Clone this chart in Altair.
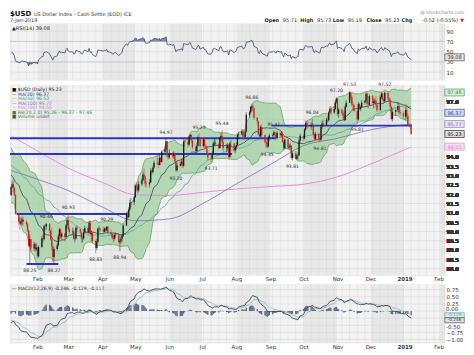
import altair as alt
import pandas as pd
import numpy as np

# ---------------- data (read / estimated from the picture) ----------------
# warm-up closes, 25-Oct-2017 .. 5-Jan-2018 (needed for the moving averages, RSI, MACD)
warm_close = [93.57, 94.63, 94.91, 94.55, 94.55,
              94.64, 94.68, 94.88, 94.77, 94.93, 94.89, 94.40, 94.39, 94.46, 93.81, 93.91,
              93.89, 93.66, 94.11, 93.96, 93.22, 93.16, 92.77, 92.97, 93.26, 93.05, 93.05,
              92.88, 93.19, 93.54, 93.37, 93.79, 93.89, 93.89, 94.09, 93.50, 93.50, 93.92,
              93.66, 93.41, 93.17, 93.35, 93.30, 93.06, 92.88, 92.54, 92.12,
              91.87, 92.18, 91.87, 91.96]

jan_c = [92.37, 92.53, 92.34, 91.96, 90.94, 90.50, 90.43, 90.54, 90.64, 90.51, 90.39, 90.05, 89.23, 89.59, 89.08, 89.32, 89.04, 89.13]
jan_h = [92.45, 92.70, 92.80, 92.40, 92.00, 90.95, 90.70, 90.75, 90.80, 90.75, 90.60, 90.45, 90.10, 89.85, 89.60, 89.45, 89.40, 89.35]
jan_l = [91.90, 92.30, 92.10, 91.90, 90.90, 90.35, 90.10, 90.35, 90.30, 90.35, 90.25, 89.95, 89.15, 88.25, 88.95, 88.95, 88.90, 88.95]
feb_c = [88.66, 89.16, 89.63, 89.58, 90.28, 90.26, 90.39, 90.02, 89.56, 89.19, 88.63, 89.06, 89.26, 89.74, 90.11, 89.71, 89.87, 89.70, 90.32, 90.60]
feb_h = [89.20, 89.25, 89.75, 89.85, 90.35, 90.40, 90.46, 90.45, 90.10, 90.20, 89.25, 89.15, 89.35, 89.85, 90.20, 90.15, 89.95, 89.90, 90.40, 90.70]
feb_l = [88.55, 88.60, 89.10, 89.40, 89.50, 90.05, 90.10, 89.90, 89.50, 88.95, 88.35, 88.27, 88.95, 89.20, 89.55, 89.60, 89.55, 89.45, 89.65, 90.25]
mar_c = [90.13, 89.96, 89.99, 89.61, 89.63, 90.19, 90.11, 89.94, 89.62, 89.62, 89.97, 90.18, 89.94, 90.46, 89.86, 89.92, 89.49, 89.11, 89.45, 90.14, 90.15, 90.10]
mar_h = [90.93, 90.25, 90.20, 90.10, 89.75, 90.25, 90.35, 90.15, 90.00, 89.75, 90.10, 90.30, 90.25, 90.55, 90.60, 90.05, 89.95, 89.55, 89.60, 90.20, 90.30, 90.20]
mar_l = [90.05, 89.85, 89.80, 89.55, 89.40, 89.55, 89.95, 89.85, 89.40, 89.40, 89.55, 89.90, 89.75, 89.90, 89.75, 89.45, 89.35, 88.83, 89.00, 89.40, 89.95, 90.00]
apr_c = [89.98, 90.15, 90.06, 90.25, 89.95, 89.86, 89.64, 89.61, 89.80, 89.80, 89.42, 89.50, 89.62, 89.77, 90.31, 90.95, 90.77, 91.18, 91.53, 91.56, 91.84]
apr_h = [90.25, 90.22, 90.20, 90.29, 90.28, 90.10, 89.95, 89.80, 89.90, 89.95, 89.85, 89.60, 89.75, 89.85, 90.40, 91.05, 91.10, 91.30, 91.70, 91.80, 91.90]
apr_l = [89.90, 89.95, 89.95, 90.00, 89.90, 89.75, 89.55, 89.40, 89.50, 89.65, 89.35, 88.94, 89.35, 89.45, 89.70, 90.30, 90.60, 90.70, 91.10, 91.30, 91.40]
may_c = [92.46, 92.43, 92.21, 92.53, 92.75, 93.06, 92.96, 92.57, 92.53, 92.64, 93.25, 93.19, 93.42, 93.68, 93.64, 93.57, 93.95, 93.73, 94.26, 94.43, 94.84, 94.06, 93.98]
may_h = [92.55, 92.65, 92.55, 92.70, 92.85, 93.20, 93.40, 93.00, 92.70, 92.80, 93.40, 93.35, 93.50, 93.80, 94.05, 93.75, 94.20, 94.00, 94.35, 94.60, 94.97, 94.85, 94.20]
may_l = [91.80, 92.15, 92.05, 92.10, 92.45, 92.70, 92.85, 92.40, 92.35, 92.35, 92.60, 93.00, 93.10, 93.35, 93.55, 93.40, 93.55, 93.55, 93.70, 94.20, 94.35, 93.95, 93.85]
jun_c = [94.17, 94.04, 94.20, 93.77, 93.29, 93.54, 93.62, 93.75, 93.53, 94.83, 94.80, 94.67, 95.10, 95.19, 94.88, 94.52, 94.32, 94.60, 95.07, 95.03, 94.58]
jun_h = [94.40, 94.25, 94.30, 94.20, 93.80, 93.70, 93.75, 93.90, 93.95, 94.95, 95.05, 95.00, 95.15, 95.20, 95.10, 94.95, 94.60, 94.75, 95.15, 95.25, 95.05]
jun_l = [93.90, 93.95, 93.90, 93.65, 93.20, 93.20, 93.45, 93.50, 93.40, 93.45, 94.55, 94.50, 94.60, 94.95, 94.75, 94.40, 94.20, 94.25, 94.55, 94.95, 94.50]
jul_c = [94.93, 94.58, 94.56, 94.23, 93.96, 93.91, 94.17, 94.72, 94.77, 94.68, 94.48, 95.02, 95.14, 94.80, 94.47, 94.50, 94.61, 94.00, 94.72, 94.72, 94.35, 94.52]
jul_h = [95.00, 95.05, 94.70, 94.60, 94.35, 94.10, 94.30, 94.85, 95.00, 94.90, 94.75, 95.10, 95.30, 95.44, 95.00, 94.70, 94.75, 94.70, 94.80, 94.90, 94.75, 94.60]
jul_l = [94.50, 94.45, 94.45, 94.15, 93.80, 93.71, 93.85, 94.10, 94.60, 94.55, 94.40, 94.45, 94.90, 94.70, 94.30, 94.25, 94.35, 93.90, 93.95, 94.55, 94.25, 94.20]
aug_c = [94.64, 95.17, 95.21, 95.37, 95.10, 95.08, 95.36, 96.26, 96.40, 96.68, 96.72, 96.62, 96.10, 95.91, 95.22, 95.10, 95.60, 95.18, 94.81, 94.76, 94.56, 95.02, 95.15]
aug_h = [94.80, 95.25, 95.35, 95.50, 95.45, 95.20, 95.45, 96.40, 96.50, 96.75, 96.86, 96.80, 96.65, 96.15, 95.95, 95.35, 95.70, 95.70, 95.20, 94.95, 94.85, 95.10, 95.25]
aug_l = [94.40, 94.60, 95.00, 95.15, 95.00, 94.90, 95.00, 95.30, 96.10, 96.35, 96.50, 96.45, 96.00, 95.75, 95.15, 94.95, 95.05, 95.05, 94.70, 94.50, 94.45, 94.50, 94.85]
sep_c = [95.17, 95.33, 95.19, 95.01, 95.30, 95.16, 95.24, 94.81, 94.46, 94.93, 94.50, 94.54, 94.60, 93.94, 94.20, 93.90, 94.06, 94.09, 94.87, 95.13]
sep_h = [95.25, 95.41, 95.38, 95.25, 95.40, 95.35, 95.38, 95.30, 94.90, 95.00, 95.00, 94.70, 94.75, 94.65, 94.30, 94.30, 94.15, 94.25, 94.95, 95.25]
sep_l = [95.00, 95.10, 95.05, 94.90, 94.95, 95.05, 95.05, 94.75, 94.35, 94.40, 94.40, 94.40, 94.40, 93.85, 93.81, 93.85, 93.85, 93.85, 94.05, 94.75]
oct_c = [94.98, 95.47, 95.81, 95.72, 95.63, 95.68, 95.73, 95.20, 94.97, 95.24, 94.95, 94.92, 95.62, 95.79, 95.70, 96.00, 95.97, 96.38, 96.58, 96.38, 96.57, 96.94, 97.13]
oct_h = [95.25, 95.55, 95.95, 95.95, 95.90, 95.85, 96.04, 95.80, 95.30, 95.35, 95.30, 95.10, 95.70, 95.95, 96.00, 96.10, 96.20, 96.45, 96.70, 96.75, 96.70, 97.05, 97.20]
oct_l = [94.85, 94.95, 95.40, 95.55, 95.50, 95.45, 95.60, 95.10, 94.85, 94.90, 94.80, 94.81, 94.85, 95.50, 95.60, 95.65, 95.85, 95.90, 96.30, 96.25, 96.30, 96.50, 96.85]
nov_c = [96.31, 96.54, 96.36, 96.21, 95.97, 96.70, 96.91, 97.45, 97.23, 96.81, 96.78, 96.46, 96.01, 96.84, 96.57, 96.70, 96.92, 97.00, 97.39, 96.86, 96.81, 97.27]
nov_h = [97.15, 96.65, 96.60, 96.50, 96.45, 96.80, 97.05, 97.53, 97.50, 97.30, 97.00, 96.85, 96.50, 96.95, 96.90, 96.75, 97.05, 97.10, 97.45, 97.45, 96.95, 97.35]
nov_l = [96.20, 96.10, 96.25, 96.05, 95.90, 95.95, 96.65, 96.90, 97.05, 96.70, 96.50, 96.40, 95.81, 95.95, 96.50, 96.45, 96.65, 96.80, 96.95, 96.75, 96.60, 96.75]
dec_c = [96.89, 96.97, 97.02, 96.79, 96.51, 97.21, 97.40, 97.10, 96.99, 97.45, 97.12, 97.05, 96.70, 96.03, 96.42, 96.52, 96.72, 96.40, 96.35, 96.17]
dec_h = [97.35, 97.10, 97.15, 97.25, 96.85, 97.30, 97.48, 97.45, 97.20, 97.52, 97.50, 97.20, 97.15, 96.75, 96.60, 96.60, 96.95, 96.85, 96.55, 96.45]
dec_l = [96.80, 96.60, 96.85, 96.65, 96.40, 96.45, 97.10, 97.00, 96.85, 96.95, 97.00, 96.85, 96.60, 95.95, 95.90, 96.20, 96.40, 96.30, 96.20, 96.05]
jan19_c = [96.52, 96.19, 95.75, 95.23]
jan19_h = [96.70, 96.80, 96.30, 95.73]
jan19_l = [95.95, 96.05, 95.70, 95.19]

# long moving averages (too long to derive from the shown window)
ma_dates = ["2018-01-08", "2018-02-01", "2018-03-01", "2018-04-02", "2018-05-01", "2018-06-01", "2018-07-02",
            "2018-08-01", "2018-09-04", "2018-10-01", "2018-11-01", "2018-12-03", "2019-01-07"]
ma100_vals = [93.27, 92.80, 92.19, 91.28, 90.57, 90.67, 91.51, 92.55, 93.70, 94.60, 95.00, 95.48, 95.77]
ma200_vals = [95.13, 94.32, 93.40, 92.61, 91.97, 91.93, 92.10, 92.28, 92.42, 92.53, 92.93, 93.66, 94.53]

# hand-drawn support / resistance lines
bl_start = ["2018-01-07", "2018-01-07", "2018-09-02", "2018-01-13", "2018-01-22"]
bl_end = ["2018-09-06", "2018-07-28", "2019-01-07", "2018-04-24", "2018-02-20"]
bl_level = [95.00, 94.15, 95.68, 90.93, 88.25]

# annotated swing highs / lows
peak_dates = ["2018-02-09", "2018-03-01", "2018-04-05", "2018-05-29", "2018-06-28", "2018-07-19",
              "2018-08-15", "2018-09-04", "2018-10-09", "2018-10-31", "2018-11-12", "2018-12-14"]
trough_dates = ["2018-01-25", "2018-02-16", "2018-03-26", "2018-04-17", "2018-06-07", "2018-07-09",
                "2018-08-29", "2018-09-21", "2018-10-16", "2018-11-19"]

# legend / header texts
price_legend = ["■ $USD (Daily) 95.23", "— MA(20) 96.37", "— MA(50) 96.52", "— MA(100) 95.77",
                "— MA(200) 94.55", "■ BB(20,2.0) 95.26 - 96.37 - 97.46", "■ Volume undef"]
price_legend_col = ["#111111", "#1f3a93", "#3f9a9a", "#7d6fb0", "#d880cf", "#3c8f3c", "#555555"]
price_box_vals = [97.46, 96.37, 95.77, 95.23, 94.55]
price_box_txt = ["97.46", "96.37", "95.77", "95.23", "94.55"]
price_box_col = ["#3c8f3c", "#1f3a93", "#7d6fb0", "#111111", "#d880cf"]
price_box_fill = ["#d6ecd6", "#d5dcf2", "#e6e1f2", "#dcdcdc", "#f6dcf3"]
macd_box_vals = [-0.129, -0.246]
macd_box_txt = ["-0.129", "-0.246"]
macd_box_col = ["#3f9a9a", "#333333"]
header_pieces = ["Open", "95.71", "High", "95.73", "Low", "95.19", "Close", "95.23", "Chg", "-0.52 (-0.55%)"]

# ---------------- assemble ----------------
HOL = {"2017-12-25", "2018-01-01", "2018-12-25", "2019-01-01"}


def tdays(a, b):
    return [d for d in pd.bdate_range(a, b) if d.strftime("%Y-%m-%d") not in HOL]


months = [
    ("2018-01-08", "2018-01-31", jan_c, jan_h, jan_l), ("2018-02-01", "2018-02-28", feb_c, feb_h, feb_l),
    ("2018-03-01", "2018-03-31", mar_c, mar_h, mar_l), ("2018-04-01", "2018-04-30", apr_c, apr_h, apr_l),
    ("2018-05-01", "2018-05-31", may_c, may_h, may_l), ("2018-06-01", "2018-06-30", jun_c, jun_h, jun_l),
    ("2018-07-01", "2018-07-31", jul_c, jul_h, jul_l), ("2018-08-01", "2018-08-31", aug_c, aug_h, aug_l),
    ("2018-09-01", "2018-09-30", sep_c, sep_h, sep_l), ("2018-10-01", "2018-10-31", oct_c, oct_h, oct_l),
    ("2018-11-01", "2018-11-30", nov_c, nov_h, nov_l), ("2018-12-01", "2018-12-31", dec_c, dec_h, dec_l),
    ("2019-01-01", "2019-01-07", jan19_c, jan19_h, jan19_l),
]
rows = []
for a, b, c, h, l in months:
    for d, cc, hh, ll in zip(tdays(a, b), c, h, l):
        rows.append((d, cc, hh, ll))
main = pd.DataFrame(rows, columns=["date", "close", "high", "low"])
wd = tdays("2017-10-25", "2018-01-05")
warm = pd.DataFrame({"date": wd[:len(warm_close)], "close": warm_close[:len(wd)]})
allc = pd.concat([warm, main[["date", "close"]]], ignore_index=True)
s = allc["close"]
allc["open"] = s.shift(1)
allc["ma20"] = s.rolling(20).mean()
sd = s.rolling(20).std(ddof=0)
allc["bbu"] = allc["ma20"] + 2 * sd
allc["bbl"] = allc["ma20"] - 2 * sd
allc["ma50"] = s.rolling(50, min_periods=40).mean()
dd = s.diff()
gain = dd.clip(lower=0).ewm(alpha=1 / 14, adjust=False).mean()
loss = (-dd.clip(upper=0)).ewm(alpha=1 / 14, adjust=False).mean()
allc["rsi"] = 100 - 100 / (1 + gain / loss)
e12 = s.ewm(span=12, adjust=False).mean()
e26 = s.ewm(span=26, adjust=False).mean()
allc["macd"] = e12 - e26
allc["sig"] = allc["macd"].ewm(span=9, adjust=False).mean()
allc["hist"] = allc["macd"] - allc["sig"]
df = allc[allc["date"] >= pd.Timestamp("2018-01-08")].merge(main[["date", "high", "low"]], on="date")
df["rsi_hi"] = np.maximum(df["rsi"], 70)
df["rsi_lo"] = np.minimum(df["rsi"], 30)
df["date"] = df["date"].dt.strftime("%Y-%m-%d")
df = df.round(4)

ma_df = pd.DataFrame({"date": ma_dates, "ma100": ma100_vals, "ma200": ma200_vals})
bl_df = pd.DataFrame({"a": bl_start, "b": bl_end, "v": bl_level})
peaks = df[df["date"].isin(peak_dates)].copy()
peaks["t"] = peaks["high"].map(lambda v: f"{v:.2f}")
troughs = df[df["date"].isin(trough_dates)].copy()
troughs["t"] = troughs["low"].map(lambda v: f"{v:.2f}")

X0, X1 = "2018-01-07", "2019-02-06"
ms = pd.date_range("2017-12-01", "2019-02-01", freq="MS")
band_df = pd.DataFrame({
    "start": [max(m, pd.Timestamp(X0)).strftime("%Y-%m-%d") for m in ms],
    "end": [min(m + pd.offsets.MonthBegin(1), pd.Timestamp(X1)).strftime("%Y-%m-%d") for m in ms],
    "shade": ["a" if m.month % 2 else "b" for m in ms],
})
band_df = band_df[band_df["start"] < band_df["end"]]
week_df = pd.DataFrame({"d": pd.date_range("2018-01-08", "2019-02-04", freq="W-MON").strftime("%Y-%m-%d")})

# ---------------- chart ----------------
W = 436
H_RSI, H_PRICE, H_MACD = 56, 190, 58
FONT = "DejaVu Sans"
xs = alt.Scale(domain=[X0, X1])
AXM = alt.Axis(title=None, tickCount={"interval": "month", "step": 1}, grid=False, ticks=False, domain=False,
               labelFontSize=5.5, labelColor="#333", labelPadding=2, labelOverlap=False, labelFlush=False,
               labelExpr="month(datum.value) == 0 ? timeFormat(datum.value, '%Y') : timeFormat(datum.value, '%b')",
               labelFontWeight={"condition": {"test": "month(datum.value) == 0", "value": "bold"}, "value": "normal"})


def bg(xaxis):
    bands = alt.Chart(band_df).mark_rect().encode(
        x=alt.X("start:T", scale=xs, axis=xaxis), x2="end:T",
        fill=alt.condition("datum.shade == 'a'", alt.value("#f3f3f3"), alt.value("#e8e8e8")))
    weeks = alt.Chart(week_df).mark_rule(color="#d8d8d8", strokeWidth=0.5).encode(
        x=alt.X("d:T", scale=xs, axis=xaxis))
    return [bands, weeks]


def hgrid(vals, scale, axis, col="#d2d2d2"):
    return alt.Chart(pd.DataFrame({"v": vals})).mark_rule(color=col, strokeWidth=0.5).encode(
        y=alt.Y("v:Q", scale=scale, axis=axis))


def boxes(vals, txts, cols, fills, scale, axis, offs=None, half=0.36, fs=5):
    out = []
    offs = offs or [0] * len(vals)
    path = f"M-1,-{half}L1,-{half}L1,{half}L-1,{half}Z"
    for v, t, c, f, o in zip(vals, txts, cols, fills, offs):
        bdf = pd.DataFrame({"v": [v], "t": [t]})
        out.append(alt.Chart(bdf).mark_point(shape=path, size=380, filled=True, fill=f, stroke=c,
                                             strokeWidth=0.6, opacity=1, yOffset=o).encode(
            x=alt.value(W + 10.5), y=alt.Y("v:Q", scale=scale, axis=axis)))
        out.append(alt.Chart(bdf).mark_text(fontSize=fs, font=FONT, align="center", baseline="middle",
                                            color=c, yOffset=o).encode(
            x=alt.value(W + 10.5), y=alt.Y("v:Q", scale=scale, axis=axis), text="t:N"))
    return out


# ---- RSI panel
ys_r = alt.Scale(domain=[-4, 104.5], nice=False, zero=False)
AXR = alt.Axis(title=None, orient="right", values=[10, 30, 50, 70, 90], grid=False, ticks=False, domain=False,
               labelFontSize=5.5, labelColor="#333", labelPadding=2)
rsi_layers = bg(None) + [
    hgrid([10, 50, 90], ys_r, AXR),
    hgrid([30, 70], ys_r, AXR, col="#a0a0a0"),
    alt.Chart(df).mark_area(color="#6f7f9f", opacity=0.9).encode(
        x=alt.X("date:T", scale=xs, axis=None), y=alt.Y("rsi_hi:Q", scale=ys_r, axis=AXR), y2=alt.datum(70)),
    alt.Chart(df).mark_area(color="#6f7f9f", opacity=0.9).encode(
        x=alt.X("date:T", scale=xs, axis=None), y=alt.Y("rsi_lo:Q", scale=ys_r, axis=AXR), y2=alt.datum(30)),
    alt.Chart(df).mark_line(color="#4d5670", strokeWidth=0.9).encode(
        x=alt.X("date:T", scale=xs, axis=None), y=alt.Y("rsi:Q", scale=ys_r, axis=AXR)),
    alt.Chart(pd.DataFrame({"t": ["▲RSI(14) 39.08"]})).mark_text(
        fontSize=5, font=FONT, align="left", baseline="middle", color="#222").encode(
        x=alt.value(2), y=alt.value(4), text="t:N"),
] + boxes([39.08], ["39.08"], ["#333333"], ["#e2e2e2"], ys_r, AXR)

# header (drawn above the RSI panel)
hdr = [
    alt.Chart(pd.DataFrame({"t": ["$USD"]})).mark_text(fontSize=7, font=FONT, fontWeight="bold", align="left",
                                                        baseline="middle", color="#111").encode(
        x=alt.value(0), y=alt.value(-10), text="t:N"),
    alt.Chart(pd.DataFrame({"t": ["US Dollar Index - Cash Settle (EOD) ICE"]})).mark_text(
        fontSize=5, font=FONT, align="left", baseline="middle", color="#333").encode(
        x=alt.value(24), y=alt.value(-10), text="t:N"),
    alt.Chart(pd.DataFrame({"t": ["7-Jan-2019"]})).mark_text(
        fontSize=5, font=FONT, align="left", baseline="middle", color="#333").encode(
        x=alt.value(0), y=alt.value(-3.5), text="t:N"),
    alt.Chart(pd.DataFrame({"t": ["@ StockCharts.com"]})).mark_text(
        fontSize=4.5, font=FONT, align="right", baseline="middle", color="#888").encode(
        x=alt.value(W + 20), y=alt.value(-10.5), text="t:N"),
    alt.Chart(pd.DataFrame({"t": ["▼"]})).mark_text(
        fontSize=5, font=FONT, align="right", baseline="middle", color="#d42020").encode(
        x=alt.value(W + 20), y=alt.value(-3.5), text="t:N"),
]
xr = W + 14
for i in range(len(header_pieces) - 1, -1, -1):
    bold = i % 2 == 0
    piece = header_pieces[i]
    hdr.append(alt.Chart(pd.DataFrame({"t": [piece]})).mark_text(
        fontSize=5, font=FONT, align="right", baseline="middle", color="#222",
        fontWeight="bold" if bold else "normal").encode(x=alt.value(xr), y=alt.value(-3.5), text="t:N"))
    xr -= len(piece) * (3.45 if bold else 3.1) + 2.5

rsi_chart = alt.layer(*(rsi_layers + hdr)).properties(width=W, height=H_RSI)

# ---- price panel
ys_p = alt.Scale(domain=[87.68, 97.84], nice=False, zero=False)
pvals = [88.0 + 0.5 * i for i in range(20)]
AXP = alt.Axis(title=None, orient="right", values=pvals, grid=False, ticks=False, domain=False,
               labelFontSize=5.5, labelColor="#333", labelPadding=2,
               labelExpr="(datum.value > 94.2 && datum.value < 96.8) || datum.value > 97.2 ? '' : format(datum.value, '.1f')")
X_P = alt.X("date:T", scale=xs, axis=AXM)
cond = alt.condition("datum.close < datum.open", alt.value("#d42020"), alt.value("#1a1a1a"))
leg_df = pd.DataFrame({"t": price_legend, "c": price_legend_col, "i": list(range(len(price_legend)))})
price_layers = bg(AXM) + [
    hgrid(pvals, ys_p, AXP),
    alt.Chart(df).mark_area(color="#9fd09f", opacity=0.75).encode(
        x=X_P, y=alt.Y("bbl:Q", scale=ys_p, axis=AXP), y2="bbu:Q"),
    alt.Chart(df).mark_line(color="#4c8a4c", strokeWidth=0.6).encode(
        x=X_P, y=alt.Y("bbu:Q", scale=ys_p, axis=AXP)),
    alt.Chart(df).mark_line(color="#4c8a4c", strokeWidth=0.6).encode(
        x=X_P, y=alt.Y("bbl:Q", scale=ys_p, axis=AXP)),
    alt.Chart(ma_df).mark_line(color="#e08ad6", strokeWidth=0.9, interpolate="monotone").encode(
        x=alt.X("date:T", scale=xs, axis=AXM), y=alt.Y("ma200:Q", scale=ys_p, axis=AXP)),
    alt.Chart(ma_df).mark_line(color="#7d6fb0", strokeWidth=0.8, interpolate="monotone").encode(
        x=alt.X("date:T", scale=xs, axis=AXM), y=alt.Y("ma100:Q", scale=ys_p, axis=AXP)),
    alt.Chart(df).mark_line(color="#5ea3a8", strokeWidth=0.8).encode(
        x=X_P, y=alt.Y("ma50:Q", scale=ys_p, axis=AXP)),
    alt.Chart(df).mark_line(color="#34406a", strokeWidth=0.8).encode(
        x=X_P, y=alt.Y("ma20:Q", scale=ys_p, axis=AXP)),
    alt.Chart(bl_df).mark_rule(color="#2a35c0", strokeWidth=2).encode(
        x=alt.X("a:T", scale=xs, axis=AXM), x2="b:T", y=alt.Y("v:Q", scale=ys_p, axis=AXP)),
    alt.Chart(df).mark_rule(strokeWidth=0.5).encode(
        x=X_P, y=alt.Y("low:Q", scale=ys_p, axis=AXP), y2="high:Q", color=cond),
    alt.Chart(df).mark_rule(strokeWidth=1.3).encode(
        x=X_P, y=alt.Y("open:Q", scale=ys_p, axis=AXP), y2="close:Q", color=cond),
    alt.Chart(peaks).mark_text(fontSize=4.6, font=FONT, dy=-4, baseline="bottom", color="#333").encode(
        x=X_P, y=alt.Y("high:Q", scale=ys_p, axis=AXP), text="t:N"),
    alt.Chart(troughs).mark_text(fontSize=4.6, font=FONT, dy=4, baseline="top", color="#333").encode(
        x=X_P, y=alt.Y("low:Q", scale=ys_p, axis=AXP), text="t:N"),
    alt.Chart(leg_df).mark_text(fontSize=4.6, font=FONT, align="left", baseline="middle").encode(
        x=alt.value(2), y=alt.Y("i:Q", scale=alt.Scale(domain=[-1, 40.5], range=[0, H_PRICE]), axis=None),
        text="t:N", color=alt.Color("c:N", scale=None)),
] + boxes(price_box_vals, price_box_txt, price_box_col, price_box_fill, ys_p, AXP)
price_chart = alt.layer(*price_layers).properties(width=W, height=H_PRICE).resolve_scale(y="independent")

# ---- MACD panel
ys_m = alt.Scale(domain=[-1.10, 0.93], nice=False, zero=False)
mvals = [0.75, 0.5, 0.25, 0.0, -0.25, -0.5, -0.75, -1.0]
AXMA = alt.Axis(title=None, orient="right", values=mvals, grid=False, ticks=False, domain=False,
                labelFontSize=5.5, labelColor="#333", labelPadding=2, format=".2f",
                labelExpr="datum.value == -0.25 || datum.value == 0 || datum.value == -0.5 ? '' : format(datum.value, '.2f')")
X_M = alt.X("date:T", scale=xs, axis=AXM)
# tick labels next to the value boxes, nudged so they stay readable
mlab_df = pd.DataFrame({"v": [0.0, -0.5], "t": ["0.00", "-0.50"]})
macd_layers = bg(AXM) + [
    hgrid(mvals, ys_m, AXMA),
    alt.Chart(df).mark_rule(color="#5d6b8a", strokeWidth=1.3).encode(
        x=X_M, y=alt.Y("hist:Q", scale=ys_m, axis=AXMA), y2=alt.datum(0)),
    alt.Chart(df).mark_line(color="#8fbcbc", strokeWidth=0.9).encode(
        x=X_M, y=alt.Y("sig:Q", scale=ys_m, axis=AXMA)),
    alt.Chart(df).mark_line(color="#3a4150", strokeWidth=0.9).encode(
        x=X_M, y=alt.Y("macd:Q", scale=ys_m, axis=AXMA)),
    alt.Chart(pd.DataFrame({"t": ["— MACD(12,26,9) -0.246, -0.129, -0.117"]})).mark_text(
        fontSize=4.6, font=FONT, align="left", baseline="middle", color="#333").encode(
        x=alt.value(2), y=alt.value(4), text="t:N"),
    alt.Chart(mlab_df.iloc[:1]).mark_text(fontSize=5.5, font=FONT, align="left", baseline="middle",
                                          color="#333", dy=-2).encode(
        x=alt.value(W + 2), y=alt.Y("v:Q", scale=ys_m, axis=AXMA), text="t:N"),
    alt.Chart(mlab_df.iloc[1:]).mark_text(fontSize=5.5, font=FONT, align="left", baseline="middle",
                                          color="#333", dy=2).encode(
        x=alt.value(W + 2), y=alt.Y("v:Q", scale=ys_m, axis=AXMA), text="t:N"),
] + boxes(macd_box_vals, macd_box_txt, macd_box_col, ["#d9ecec", "#e2e2e2"], ys_m, AXMA,
          offs=[0.6, 2.3], half=0.26, fs=4.2)
macd_chart = alt.layer(*macd_layers).properties(width=W, height=H_MACD)

chart = alt.vconcat(rsi_chart, price_chart, macd_chart, spacing=1).properties(
    padding={"left": 0, "top": 0, "right": 0, "bottom": 0}
).configure_view(stroke="#9a9a9a", strokeWidth=0.7).configure(font=FONT)

chart.save("out.html", embed_options={"renderer": "svg", "actions": False})
